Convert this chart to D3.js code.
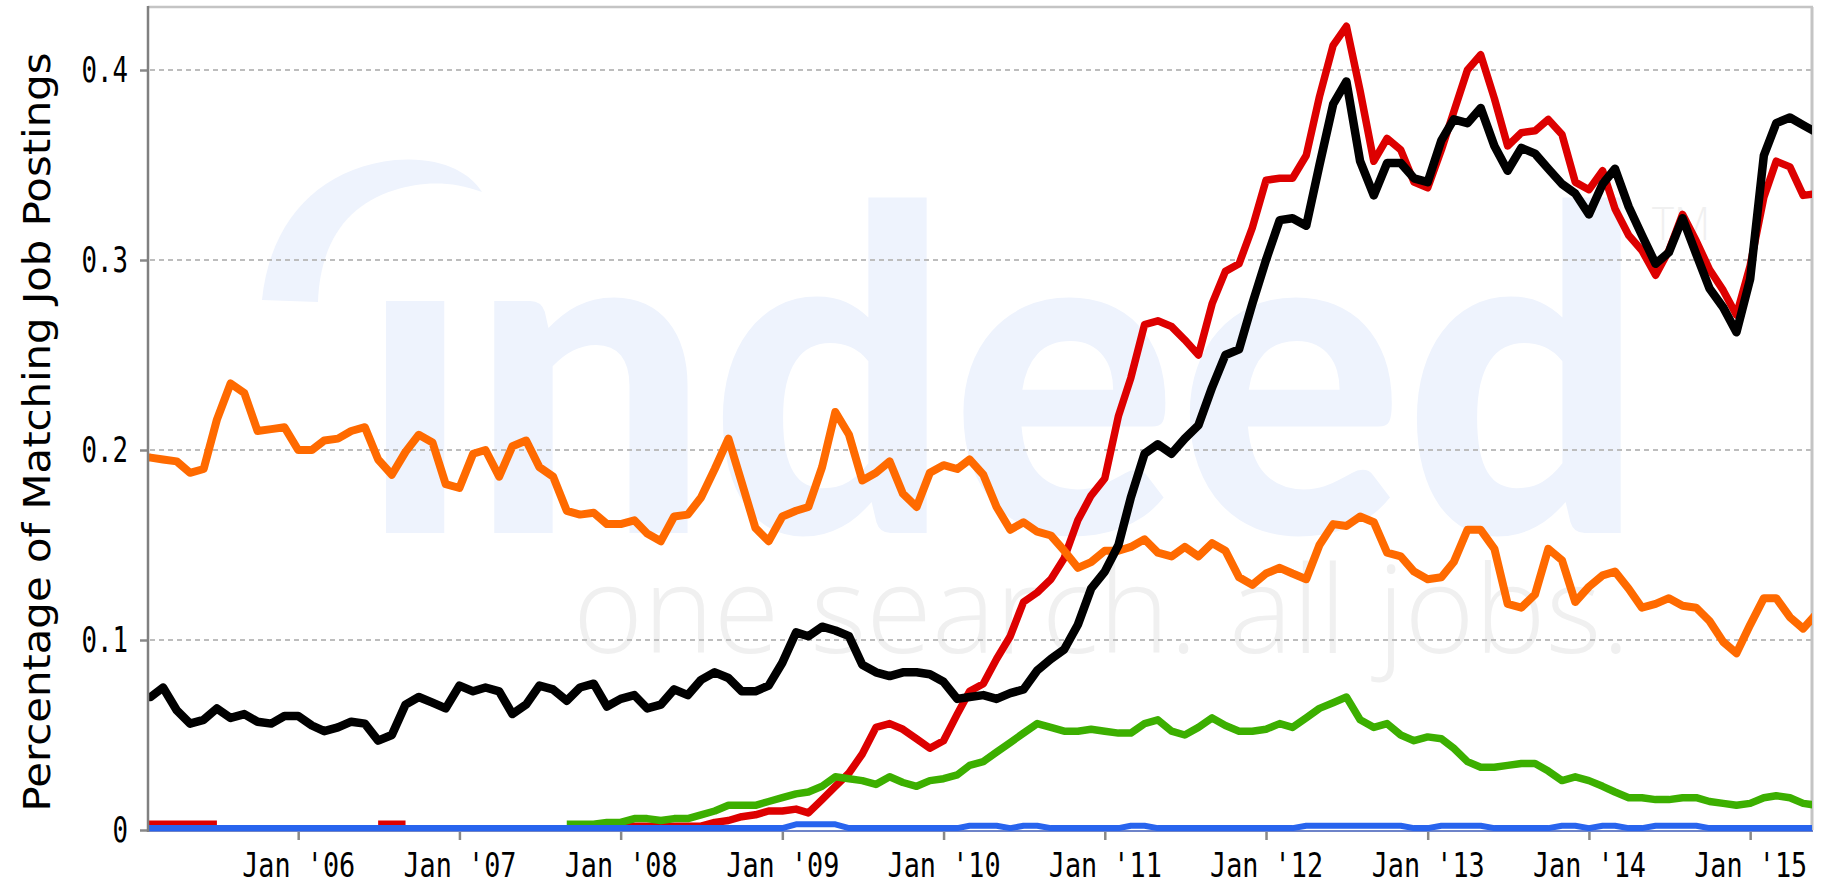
<!DOCTYPE html>
<html><head><meta charset="utf-8">
<script src="https://cdn.jsdelivr.net/npm/d3@7"></script>
<style>html,body{margin:0;padding:0;background:#fff;overflow:hidden}</style>
</head><body><svg id="c" width="1833" height="884"></svg>
<script>
// ---------- data ----------
const months = [
"2005-01","2005-02","2005-03","2005-04","2005-05","2005-06","2005-07","2005-08","2005-09","2005-10","2005-11","2005-12",
"2006-01","2006-02","2006-03","2006-04","2006-05","2006-06","2006-07","2006-08","2006-09","2006-10","2006-11","2006-12",
"2007-01","2007-02","2007-03","2007-04","2007-05","2007-06","2007-07","2007-08","2007-09","2007-10","2007-11","2007-12",
"2008-01","2008-02","2008-03","2008-04","2008-05","2008-06","2008-07","2008-08","2008-09","2008-10","2008-11","2008-12",
"2009-01","2009-02","2009-03","2009-04","2009-05","2009-06","2009-07","2009-08","2009-09","2009-10","2009-11","2009-12",
"2010-01","2010-02","2010-03","2010-04","2010-05","2010-06","2010-07","2010-08","2010-09","2010-10","2010-11","2010-12",
"2011-01","2011-02","2011-03","2011-04","2011-05","2011-06","2011-07","2011-08","2011-09","2011-10","2011-11","2011-12",
"2012-01","2012-02","2012-03","2012-04","2012-05","2012-06","2012-07","2012-08","2012-09","2012-10","2012-11","2012-12",
"2013-01","2013-02","2013-03","2013-04","2013-05","2013-06","2013-07","2013-08","2013-09","2013-10","2013-11","2013-12",
"2014-01","2014-02","2014-03","2014-04","2014-05","2014-06","2014-07","2014-08","2014-09","2014-10","2014-11","2014-12",
"2015-01","2015-02","2015-03","2015-04","2015-05","2015-06"];

const orangeValues = [
.196,.196,.195,.194,.188,.190,.216,.235,.230,.210,.211,.212,
.200,.200,.205,.206,.210,.212,.195,.187,.199,.208,.204,.182,
.180,.198,.200,.186,.202,.205,.191,.186,.168,.166,.167,.161,
.161,.163,.156,.152,.165,.166,.175,.190,.206,.183,.159,.152,
.165,.168,.170,.191,.220,.208,.184,.188,.194,.177,.170,.188,
.192,.190,.195,.187,.170,.158,.162,.157,.155,.147,.138,.141,
.147,.147,.149,.153,.146,.144,.149,.144,.151,.147,.133,.129,
.135,.138,.135,.132,.150,.161,.160,.165,.162,.146,.144,.136,
.132,.133,.141,.158,.158,.148,.119,.117,.124,.148,.142,.120,
.128,.134,.136,.127,.117,.119,.122,.118,.117,.110,.099,.093,
.108,.122,.122,.112,.106,.114];

const blackValues = [
.070,.070,.075,.063,.056,.058,.064,.059,.061,.057,.056,.060,
.060,.055,.052,.054,.057,.056,.047,.050,.066,.070,.067,.064,
.076,.073,.075,.073,.061,.066,.076,.074,.068,.075,.077,.065,
.069,.071,.064,.066,.074,.071,.079,.083,.080,.073,.073,.076,
.088,.104,.102,.107,.105,.102,.087,.083,.081,.083,.083,.082,
.078,.069,.070,.071,.069,.072,.074,.084,.090,.095,.108,.127,
.136,.150,.175,.198,.203,.198,.206,.213,.233,.250,.253,.277,
.300,.321,.322,.318,.350,.382,.394,.352,.334,.351,.351,.343,
.341,.363,.374,.372,.380,.360,.347,.359,.356,.348,.340,.335,
.324,.340,.348,.328,.313,.298,.304,.322,.303,.285,.275,.262,
.290,.355,.372,.375,.371,.367];

const redValues = [
.003,.003,.003,.003,.003,.003,.003,null,null,null,null,null,
null,null,null,null,null,null,.003,.003,.003,null,null,null,
null,null,null,null,null,null,null,null,null,null,null,null,
.003,.002,.002,.002,.002,.002,.002,.004,.005,.007,.008,.010,
.010,.011,.009,.016,.023,.030,.040,.054,.056,.053,.048,.043,
.047,.061,.073,.077,.090,.102,.120,.125,.132,.143,.163,.176,
.185,.218,.238,.266,.268,.265,.258,.250,.277,.294,.298,.317,
.342,.343,.343,.355,.386,.413,.423,.389,.352,.364,.358,.341,
.338,.358,.378,.400,.408,.385,.360,.367,.368,.374,.366,.341,
.337,.347,.327,.313,.305,.292,.305,.324,.310,.295,.284,.271,
.297,.333,.352,.349,.334,.335];

const greenValues = [
null,null,null,null,null,null,null,null,null,null,null,null,
null,null,null,null,null,null,null,null,null,null,null,null,
null,null,null,null,null,null,null,null,.003,.003,.003,.004,
.004,.006,.006,.005,.006,.006,.008,.010,.013,.013,.013,.015,
.017,.019,.020,.023,.028,.027,.026,.024,.028,.025,.023,.026,
.027,.029,.034,.036,.041,.046,.051,.056,.054,.052,.052,.053,
.052,.051,.051,.056,.058,.052,.050,.054,.059,.055,.052,.052,
.053,.056,.054,.059,.064,.067,.070,.058,.054,.056,.050,.047,
.049,.048,.043,.036,.033,.033,.034,.035,.035,.031,.026,.028,
.026,.023,.020,.017,.017,.016,.016,.017,.017,.015,.014,.013,
.014,.017,.018,.017,.014,.013];

const blueValues = [
.001,.001,.001,.001,.001,.001,.001,.001,.001,.001,.001,.001,
.001,.001,.001,.001,.001,.001,.001,.001,.001,.001,.001,.001,
.001,.001,.001,.001,.001,.001,.001,.001,.001,.001,.001,.001,
.001,.001,.001,.001,.001,.001,.001,.001,.001,.001,.001,.001,
.001,.003,.003,.003,.003,.001,.001,.001,.001,.001,.001,.001,
.001,.001,.0022,.0022,.0022,.001,.0022,.0022,.001,.001,.001,.001,
.001,.001,.0022,.0022,.001,.001,.001,.001,.001,.001,.001,.001,
.001,.001,.001,.0022,.0022,.0022,.0022,.0022,.0022,.0022,.0022,.001,
.001,.0022,.0022,.0022,.0022,.001,.001,.001,.001,.001,.0022,.0022,
.001,.0022,.0022,.001,.001,.0022,.0022,.0022,.0022,.001,.001,.001,
.001,.001,.001,.001,.001,.001];

const seriesNames = ["red","green","orange","black","blue"];
const seriesColors = ["#dd0000","#3caf00","#ff6a00","#000000","#2864ee"];

const yTicks = [0, 0.1, 0.2, 0.3, 0.4];
const yTickLabels = ["0", "0.1", "0.2", "0.3", "0.4"];
const xTickMonths = ["2006-01","2007-01","2008-01","2009-01","2010-01","2011-01","2012-01","2013-01","2014-01","2015-01"];
const xTickLabels = ["Jan '06","Jan '07","Jan '08","Jan '09","Jan '10","Jan '11","Jan '12","Jan '13","Jan '14","Jan '15"];
const yTitle = "Percentage of Matching Job Postings";

// ---------- drawing ----------
const parse = d3.timeParse("%Y-%m");
const dates = months.map(parse);
const valuesByName = {red: redValues, green: greenValues, orange: orangeValues, black: blackValues, blue: blueValues};
const widths = {red: 7.5, green: 7.5, orange: 8, black: 8.5, blue: 6};

const L = 148, R = 1812, T = 7, B = 830;
const x = d3.scaleTime().domain([new Date(2005,0,26), new Date(2015,4,21)]).range([L, R]);
const y = d3.scaleLinear().domain([0, (B - T) / 1900]).range([B, T]);

const svg = d3.select("#c");

// watermark
const wm = svg.append("g");
wm.append("path")
  .attr("d", "M262,300 C270,220 320,168 395,160 C440,156 470,172 482,192 C450,180 420,182 395,190 C345,205 320,245 318,302 Z")
  .attr("fill", "#eef3fd");
wm.append("text")
  .attr("x", 360).attr("y", 533)
  .attr("font-family", "Lato, 'Open Sans', sans-serif")
  .attr("font-weight", 900)
  .style("font-size", "450px")
  .attr("textLength", 1285).attr("lengthAdjust", "spacingAndGlyphs")
  .attr("fill", "#eef3fd")
  .text("\u0131ndeed");
wm.append("text")
  .attr("x", 573).attr("y", 653)
  .attr("font-family", "'Open Sans', Lato, sans-serif")
  .attr("font-weight", 300)
  .style("font-size", "122px")
  .attr("textLength", 1057).attr("lengthAdjust", "spacingAndGlyphs")
  .attr("fill", "#f0f0f0")
  .text("one search. all jobs.");
wm.append("text")
  .attr("x", 1652).attr("y", 240)
  .attr("font-family", "'Open Sans', sans-serif")
  .attr("font-weight", 300)
  .style("font-size", "46px")
  .attr("textLength", 58).attr("lengthAdjust", "spacingAndGlyphs")
  .attr("fill", "#f0f0f0")
  .text("TM");

// gridlines
svg.append("g").selectAll("line").data(yTicks.filter(d => d > 0)).join("line")
  .attr("x1", L + 2).attr("x2", R)
  .attr("y1", d => y(d)).attr("y2", d => y(d))
  .attr("stroke", "#bdbdbd").attr("stroke-width", 2).attr("stroke-dasharray", "5,4");

// frame
svg.append("line").attr("x1", L).attr("x2", R + 1).attr("y1", T).attr("y2", T)
  .attr("stroke", "#c4c4c4").attr("stroke-width", 2.5);
svg.append("line").attr("x1", R).attr("x2", R).attr("y1", T).attr("y2", B)
  .attr("stroke", "#c4c4c4").attr("stroke-width", 3);

// bottom axis line (under the series)
svg.append("line").attr("x1", L).attr("x2", R + 1).attr("y1", B + 1).attr("y2", B + 1)
  .attr("stroke", "#6e83c8").attr("stroke-width", 2);

// lines
const clip = svg.append("clipPath").attr("id", "clip");
clip.append("rect").attr("x", L).attr("y", 0).attr("width", R - L).attr("height", B + 1 - 0);
const lineGen = d3.line()
  .defined(d => d.v != null)
  .x(d => x(d.date)).y(d => y(d.v));
const plot = svg.append("g").attr("clip-path", "url(#clip)");
seriesNames.forEach((name, k) => {
  const pts = dates.map((dt, i) => ({date: dt, v: valuesByName[name][i]}));
  plot.append("path").datum(pts)
    .attr("d", lineGen)
    .attr("fill", "none")
    .attr("stroke", seriesColors[k])
    .attr("stroke-width", widths[name])
    .attr("stroke-linejoin", "round")
    .attr("stroke-linecap", "butt");
});

// axes
const fontMono = "'DejaVu Sans Mono', monospace";
const xAxis = svg.append("g").attr("transform", `translate(0,${B})`)
  .call(d3.axisBottom(x).tickValues(xTickMonths.map(parse))
    .tickFormat((d, i) => xTickLabels[i]).tickSize(10).tickSizeOuter(0));
xAxis.select(".domain").remove();
xAxis.selectAll(".tick line").attr("stroke", "#888").attr("stroke-width", 2.5).attr("y1", 2);
xAxis.selectAll(".tick text")
  .attr("y", null).attr("dy", null)
  .attr("transform", "translate(0,47) scale(1,1.3)")
  .attr("text-anchor", "middle")
  .attr("fill", "#000")
  .attr("font-family", fontMono)
  .style("font-size", "26px")
  .attr("textLength", 113).attr("lengthAdjust", "spacingAndGlyphs");

const yAxis = svg.append("g").attr("transform", `translate(${L},0)`)
  .call(d3.axisLeft(y).tickValues(yTicks)
    .tickFormat((d, i) => yTickLabels[i]).tickSize(8).tickSizeOuter(0));
yAxis.select(".domain").remove();
yAxis.selectAll(".tick line").attr("stroke", "#888").attr("stroke-width", 2.5);
yAxis.selectAll(".tick text")
  .attr("x", null).attr("dy", null)
  .attr("transform", "translate(-20,11) scale(1,1.35)")
  .attr("text-anchor", "end")
  .attr("fill", "#000")
  .attr("font-family", fontMono)
  .style("font-size", "26px")
  .attr("textLength", (d, i) => yTickLabels[i].length * 15.5)
  .attr("lengthAdjust", "spacingAndGlyphs");

// left axis line
svg.append("line").attr("x1", L).attr("x2", L).attr("y1", T - 1).attr("y2", B + 2)
  .attr("stroke", "#808080").attr("stroke-width", 2.5);

// title
svg.append("text")
  .attr("transform", "translate(50,432) rotate(-90)")
  .attr("text-anchor", "middle")
  .attr("font-family", "'DejaVu Sans', sans-serif")
  .style("font-size", "37px")
  .attr("textLength", 759).attr("lengthAdjust", "spacingAndGlyphs")
  .attr("fill", "#000")
  .text(yTitle);
</script>
</body></html>
